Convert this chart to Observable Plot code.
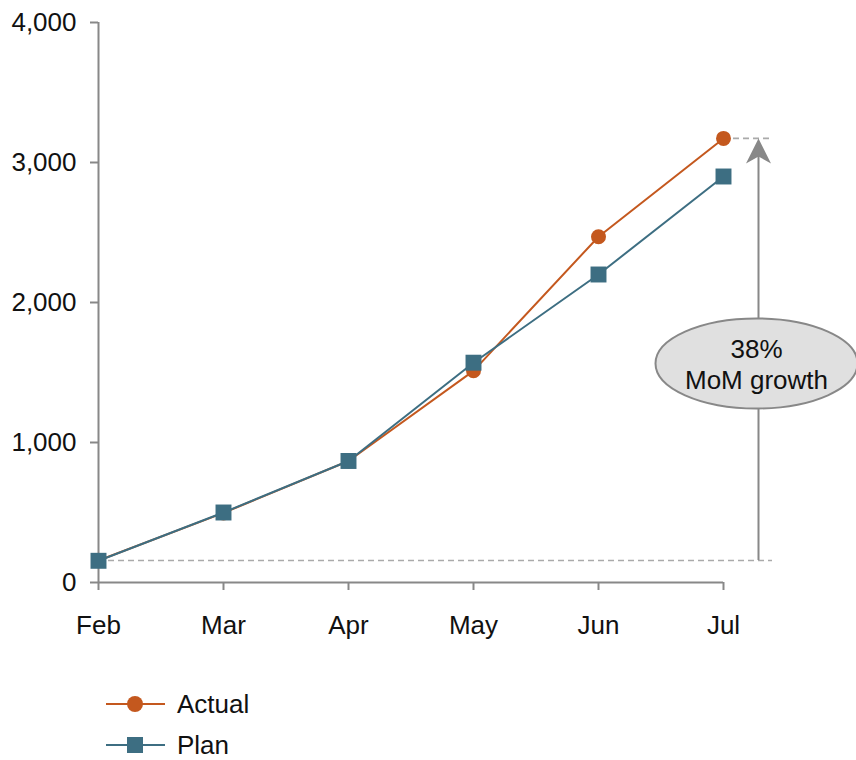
<!DOCTYPE html>
<html>
<head>
<meta charset="utf-8">
<script src="https://cdn.jsdelivr.net/npm/d3@7"></script>
<script src="https://cdn.jsdelivr.net/npm/@observablehq/plot@0.6"></script>
<style>
  body { margin: 0; background: #fff; font-family: "Liberation Sans", Arial, sans-serif; overflow: hidden; }
  #legend { position: relative; height: 100px; }
  .row { position: absolute; left: 106px; display: flex; align-items: center; font-size: 26px; line-height: 26px; height: 26px; color: #111; }
  .row svg { margin-right: 12px; display: block; }
</style>
</head>
<body>
<div id="chart"></div>
<div id="legend"></div>
<script>
// Monthly totals, actual vs plan
const months = ["Feb", "Mar", "Apr", "May", "Jun", "Jul"];
const actual = [157, 497, 868, 1512, 2470, 3172];
const plan = [155, 500, 868, 1570, 2200, 2900];
const yTicks = [0, 1000, 2000, 3000, 4000];
const growthLabel = "38%\nMoM growth";
const seriesNames = ["Actual", "Plan"];
const colors = {Actual: "#C4581E", Plan: "#3D6E82"};

const rows = [
  ...months.map((m, i) => ({month: m, value: actual[i], series: "Actual"})),
  ...months.map((m, i) => ({month: m, value: plan[i], series: "Plan"}))
];
const actualRows = rows.filter(d => d.series === "Actual");
const planRows = rows.filter(d => d.series === "Plan");

const firstMonth = months[0];
const lastMonth = months[months.length - 1];
const startValue = actual[0];
const endValue = actual[actual.length - 1];
const midValue = (startValue + endValue) / 2 - 100;

// filled "stealth" arrowhead, tip at the origin
const arrowHead = {
  draw(ctx) {
    ctx.moveTo(0, 0);
    ctx.lineTo(12.5, 25);
    ctx.lineTo(0, 18);
    ctx.lineTo(-12.5, 25);
    ctx.closePath();
  }
};
// ellipse callout drawn from four bezier arcs
const ellipse = (rx, ry) => ({
  draw(ctx) {
    const k = 0.5523;
    ctx.moveTo(rx, 0);
    ctx.bezierCurveTo(rx, k * ry, k * rx, ry, 0, ry);
    ctx.bezierCurveTo(-k * rx, ry, -rx, k * ry, -rx, 0);
    ctx.bezierCurveTo(-rx, -k * ry, -k * rx, -ry, 0, -ry);
    ctx.bezierCurveTo(k * rx, -ry, rx, -k * ry, rx, 0);
    ctx.closePath();
  }
});

const gray = "#888";
const off = 35;
const fs = 26;
const dashed = {stroke: "#aaa", strokeWidth: 1.6, strokeDasharray: "6,4"};

const chart = Plot.plot({
  width: 856,
  height: 660,
  marginTop: 22,
  marginBottom: 78,
  marginLeft: 98,
  marginRight: 133,
  style: {fontFamily: "Liberation Sans, Arial, sans-serif", fontSize: fs + "px", color: "#111", background: "#fff"},
  x: {type: "point", domain: months, padding: 0},
  y: {domain: [0, 4000]},
  marks: [
    // reference lines at the starting and latest values
    Plot.ruleY([{a: firstMonth, b: lastMonth, v: startValue}], {y: "v", x1: "a", x2: "b", insetRight: -49, ...dashed}),
    Plot.ruleY([{a: lastMonth, b: lastMonth, v: endValue}], {y: "v", x1: "a", x2: "b", insetRight: -49, ...dashed}),
    // axes
    Plot.ruleX([{m: firstMonth, lo: 0, hi: 4000}], {x: "m", y1: "hi", y2: "lo", stroke: gray, strokeWidth: 2}),
    Plot.ruleY([{a: firstMonth, b: lastMonth, v: 0}], {y: "v", x1: "a", x2: "b", stroke: gray, strokeWidth: 2}),
    Plot.axisY({ticks: yTicks, tickSize: 8, tickPadding: 14, tickFormat: d3.format(","), stroke: gray, strokeWidth: 2, fill: "#111", fontSize: fs}),
    Plot.axisX({tickSize: 8, tickPadding: 25, stroke: gray, strokeWidth: 2, strokeOpacity: 1, fill: "#111", fontSize: fs}),
    // growth arrow: shaft from the starting value up to the arrowhead
    Plot.ruleX([{m: lastMonth, lo: startValue, hi: endValue}], {x: "m", y1: "hi", y2: "lo", dx: off, insetTop: 14, stroke: gray, strokeWidth: 2}),
    Plot.dot([{m: lastMonth, v: endValue}], {x: "m", y: "v", dx: off, symbol: arrowHead, fill: gray, stroke: "none"}),
    Plot.dot([{m: lastMonth, v: midValue}], {x: "m", y: "v", dx: off - 2, symbol: ellipse(101, 45), fill: "#e0e0e0", stroke: gray, strokeWidth: 2}),
    Plot.text([{m: lastMonth, v: midValue, t: growthLabel}], {x: "m", y: "v", text: "t", dx: off - 2, dy: 0, fontSize: fs, lineHeight: 1.2, fill: "#111"}),
    // series
    Plot.line(actualRows, {x: "month", y: "value", stroke: colors.Actual, strokeWidth: 2}),
    Plot.dot(actualRows, {x: "month", y: "value", r: 7.5, symbol: "circle", fill: colors.Actual, stroke: "none"}),
    Plot.line(planRows, {x: "month", y: "value", stroke: colors.Plan, strokeWidth: 2}),
    Plot.dot(planRows, {x: "month", y: "value", r: 9, symbol: "square", fill: colors.Plan, stroke: "none"})
  ]
});
document.getElementById("chart").appendChild(chart);

// legend below the chart
const legend = document.getElementById("legend");
seriesNames.forEach((name, i) => {
  const row = document.createElement("div");
  row.className = "row";
  row.style.top = (31 + i * 41) + "px";
  const c = colors[name];
  const marker = name === "Actual"
    ? `<circle cx="29" cy="13" r="8" fill="${c}"/>`
    : `<rect x="21" y="5" width="16" height="16" fill="${c}"/>`;
  row.innerHTML = `<svg width="59" height="26"><line x1="0" x2="59" y1="13" y2="13" stroke="${c}" stroke-width="2"/>${marker}</svg><span>${name}</span>`;
  legend.appendChild(row);
});
</script>
</body>
</html>
